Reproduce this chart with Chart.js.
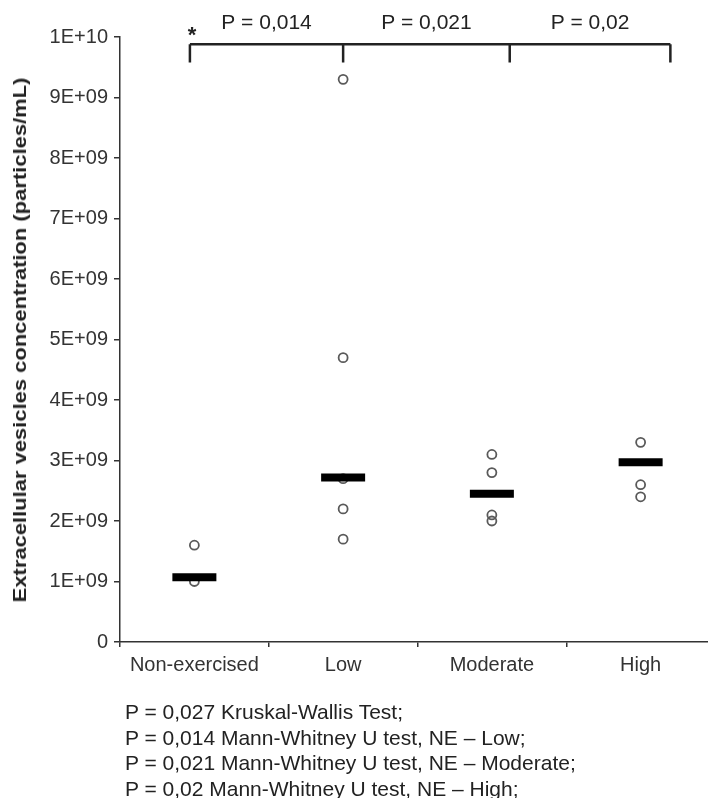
<!DOCTYPE html>
<html>
<head>
<meta charset="utf-8">
<script src="https://cdn.jsdelivr.net/npm/chart.js@4.4.1/dist/chart.umd.min.js"></script>
<style>
    html, body { margin: 0; padding: 0; background: #fff; overflow: hidden; }
    #wrap { position: relative; width: 708px; height: 798px; overflow: hidden; font-family: "Liberation Sans", Arial, sans-serif; }
    #chart { position: absolute; left: 0; top: 0; }
    #y-title {
        position: absolute; width: 440px; left: -200px; top: 329px; text-align: center;
        font-weight: bold; font-size: 18px; line-height: 22px; color: #222; white-space: nowrap;
        transform: rotate(-90deg) scaleX(1.22);
    }
    #notes { position: absolute; left: 125px; top: 699px; font-size: 21px; line-height: 25.5px; color: #222; }
</style>
</head>
<body>
<div id="wrap">
    <canvas id="chart" width="745" height="700"></canvas>
    <div id="y-title">Extracellular vesicles concentration (particles/mL)</div>
    <div id="notes">
        <div>P = 0,027 Kruskal-Wallis Test;</div>
        <div>P = 0,014 Mann-Whitney U test, NE – Low;</div>
        <div>P = 0,021 Mann-Whitney U test, NE – Moderate;</div>
        <div>P = 0,02 Mann-Whitney U test, NE – High;</div>
    </div>
</div>
<script>
// --- DATA ---
const categories = ['Non-exercised', 'Low', 'Moderate', 'High'];
const nonExercised = [1.6e9, 1.0e9];
const low = [9.3e9, 4.7e9, 2.7e9, 2.2e9, 1.7e9];
const moderate = [3.1e9, 2.8e9, 2.1e9, 2.0e9];
const high = [3.3e9, 2.6e9, 2.4e9];
const medians = [1.07e9, 2.72e9, 2.45e9, 2.97e9];
const yTickLabels = ['0', '1E+09', '2E+09', '3E+09', '4E+09', '5E+09', '6E+09', '7E+09', '8E+09', '9E+09', '1E+10'];

// significance bracket (category positions / axis values)
const bracketAnchors = [-0.03, 1, 2.12, 3.2];
const bracketLabels = ['P = 0,014', 'P = 0,021', 'P = 0,02'];
const bracketLevel = 9.88e9;
const bracketTickEnd = 9.58e9;
const bracketTextLevel = 10.23e9;

const groups = [nonExercised, low, moderate, high];
const pointData = groups.flatMap((vals, i) => vals.map(v => ({ x: categories[i], y: v })));
const medianData = medians.map((v, i) => ({ x: categories[i], y: v }));

const FONT = '"Liberation Sans", Arial, sans-serif';
const AXIS_COLOR = '#333';

// draws the bracket with p-values above the plot
const bracketPlugin = {
    id: 'bracket',
    afterDraw(chart) {
        const { ctx, scales: { x, y } } = chart;
        const xs = bracketAnchors.map(a => x.getPixelForValue(a));
        const yTop = y.getPixelForValue(bracketLevel);
        const yEnd = y.getPixelForValue(bracketTickEnd);
        ctx.save();
        ctx.strokeStyle = '#222';
        ctx.lineWidth = 2.5;
        ctx.beginPath();
        ctx.moveTo(xs[0], yTop);
        ctx.lineTo(xs[xs.length - 1], yTop);
        xs.forEach(px => { ctx.moveTo(px, yTop); ctx.lineTo(px, yEnd); });
        ctx.stroke();

        ctx.fillStyle = '#222';
        ctx.font = `21px ${FONT}`;
        ctx.textAlign = 'center';
        ctx.textBaseline = 'middle';
        const yText = y.getPixelForValue(bracketTextLevel);
        bracketLabels.forEach((lbl, i) => ctx.fillText(lbl, (xs[i] + xs[i + 1]) / 2, yText));

        ctx.font = `bold 22px ${FONT}`;
        ctx.textBaseline = 'alphabetic';
        ctx.fillText('*', xs[0] + 2, yTop - 2);
        ctx.restore();
    }
};

new Chart(document.getElementById('chart'), {
    type: 'line',
    data: {
        labels: categories,
        datasets: [
            {
                data: pointData,
                showLine: false,
                pointStyle: 'circle',
                pointRadius: 4.5,
                pointBorderWidth: 1.8,
                pointBorderColor: '#5a5a5a',
                pointBackgroundColor: 'rgba(255,255,255,0)',
                order: 2,
            },
            {
                data: medianData,
                showLine: false,
                pointStyle: 'line',
                pointRadius: 22,
                pointBorderWidth: 8,
                pointBorderColor: '#000',
                order: 1,
            }
        ]
    },
    options: {
        responsive: false,
        animation: false,
        layout: { padding: { top: 37, right: 3, bottom: 0, left: 0 } },
        plugins: { legend: { display: false }, tooltip: { enabled: false } },
        scales: {
            x: {
                type: 'category',
                offset: true,
                afterFit: (s) => { s.height = 58; s.paddingLeft = 0; s.paddingRight = 0; },
                border: { display: true, color: AXIS_COLOR, width: 1.5 },
                grid: { offset: true, drawOnChartArea: false, drawTicks: true, tickLength: 5, color: AXIS_COLOR, lineWidth: 1.5 },
                ticks: { font: { family: FONT, size: 20 }, color: '#333', padding: 6, maxRotation: 0 }
            },
            y: {
                min: 0,
                max: 1e10,
                afterFit: (s) => { s.width = 120; },
                border: { display: true, color: AXIS_COLOR, width: 1.5 },
                grid: { drawOnChartArea: false, drawTicks: true, tickLength: 6, color: AXIS_COLOR, lineWidth: 1.5 },
                ticks: {
                    stepSize: 1e9,
                    font: { family: FONT, size: 20 },
                    color: '#333',
                    padding: 6,
                    callback: (value, index) => yTickLabels[index]
                }
            }
        }
    },
    plugins: [bracketPlugin]
});
</script>
</body>
</html>
